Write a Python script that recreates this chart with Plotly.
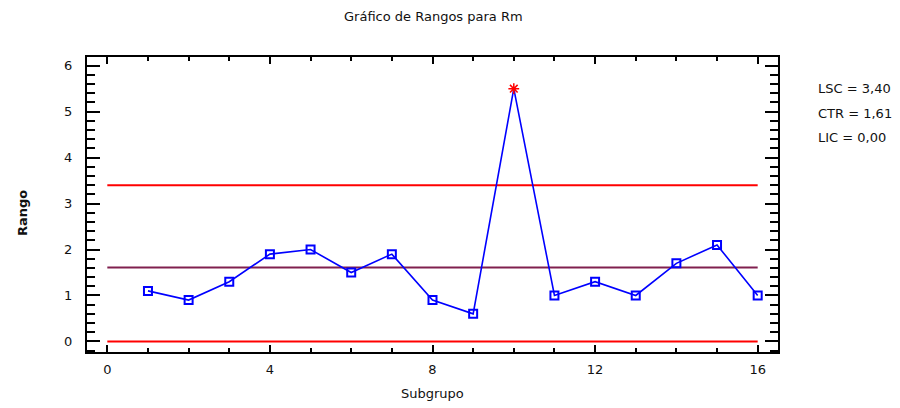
import plotly.graph_objects as go

# Moving ranges per subgroup
subgrupo = list(range(1, 17))
rango = [1.1, 0.9, 1.3, 1.9, 2.0, 1.5, 1.9, 0.9, 0.6, 5.5, 1.0, 1.3, 1.0, 1.7, 2.1, 1.0]

# Control limits
lsc = 3.40
ctr = 1.61
lic = 0.00
limit_span = [0, 16]

x_ticks = [0, 4, 8, 12, 16]
y_ticks = [0, 1, 2, 3, 4, 5, 6]

FONT = "DejaVu Sans"
TEXT = "#111111"

in_ctrl_x = [x for x, r in zip(subgrupo, rango) if r <= lsc]
in_ctrl_y = [r for r in rango if r <= lsc]
out_x = [x for x, r in zip(subgrupo, rango) if r > lsc]
out_y = [r for r in rango if r > lsc]

fig = go.Figure()

fig.add_trace(go.Scatter(x=limit_span, y=[lsc, lsc], mode="lines",
                         line=dict(color="#ff0000", width=2), hoverinfo="skip"))
fig.add_trace(go.Scatter(x=limit_span, y=[ctr, ctr], mode="lines",
                         line=dict(color="#80204f", width=2), hoverinfo="skip"))
fig.add_trace(go.Scatter(x=limit_span, y=[lic, lic], mode="lines",
                         line=dict(color="#ff0000", width=2), hoverinfo="skip"))

fig.add_trace(go.Scatter(x=subgrupo, y=rango, mode="lines",
                         line=dict(color="#0000ff", width=1.6)))
fig.add_trace(go.Scatter(x=in_ctrl_x, y=in_ctrl_y, mode="markers",
                         marker=dict(symbol="square-open", size=8, color="#0000ff",
                                     line=dict(width=2, color="#0000ff"))))
fig.add_trace(go.Scatter(x=out_x, y=out_y, mode="markers",
                         marker=dict(symbol="asterisk-open", size=9, color="#ff0000",
                                     line=dict(width=1.5, color="#ff0000"))))

axis_common = dict(
    showline=True, linecolor="black", linewidth=2, mirror="ticks",
    ticks="inside", tickcolor="black", tickwidth=2, showgrid=False, zeroline=False,
    tickfont=dict(family=FONT, size=13, color=TEXT),
)

fig.update_xaxes(range=[-0.5, 16.5], tickvals=x_ticks, ticklen=7,
                 ticklabelstandoff=4,
                 minor=dict(dtick=1, tick0=0, ticks="inside", ticklen=4,
                            tickcolor="black", tickwidth=1.5, showgrid=False),
                 **axis_common)
fig.update_yaxes(range=[-0.23, 6.19], tickvals=y_ticks, ticklen=13,
                 ticklabelstandoff=10,
                 minor=dict(dtick=0.2, tick0=0, ticks="inside", ticklen=8,
                            tickcolor="black", tickwidth=1.5, showgrid=False),
                 **axis_common)

fig.update_layout(
    width=900, height=408,
    margin=dict(l=87, r=122, t=57, b=56),
    paper_bgcolor="white", plot_bgcolor="white",
    showlegend=False,
    font=dict(family=FONT, color=TEXT),
)

plot_h = 408 - 57 - 56
plot_w = 900 - 87 - 122


def py(px):
    return (408 - 56 - px) / plot_h


def pxx(px):
    return (px - 87) / plot_w


def label(text, x, y, size=13, angle=0, xanchor="center"):
    fig.add_annotation(text=text, x=pxx(x), y=py(y), xanchor=xanchor,
                       yanchor="middle", textangle=angle,
                       xref="paper", yref="paper", showarrow=False,
                       font=dict(family=FONT, size=size, color=TEXT))


label("Gráfico de Rangos para Rm", 433, 17)
label("Subgrupo", 432, 393)
label("<b>Rango</b>", 22, 213, angle=-90)

for name, val, ypx in [("LSC", lsc, 88), ("CTR", ctr, 113), ("LIC", lic, 137)]:
    txt = f"{name} = {val:.2f}".replace(".", ",")
    label(txt, 816, ypx, xanchor="left")

fig.write_html("out.html")
